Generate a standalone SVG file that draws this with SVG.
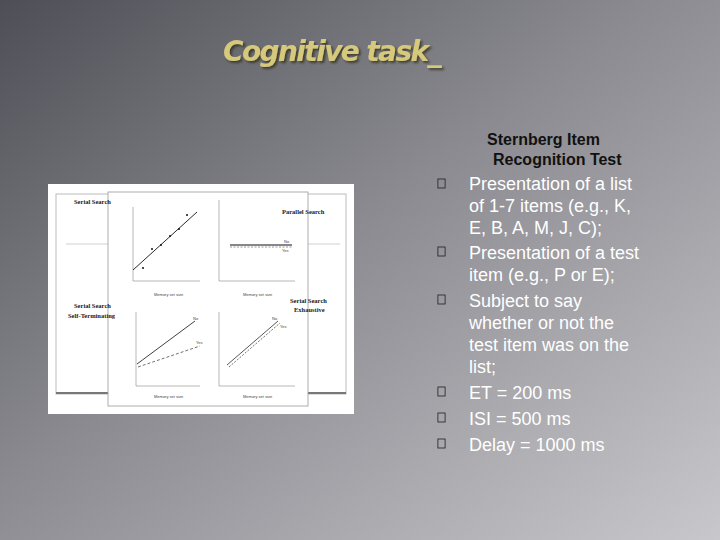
<svg xmlns="http://www.w3.org/2000/svg" width="720" height="540" viewBox="0 0 720 540">
<defs>
<linearGradient id="bg" x1="0" y1="0" x2="1" y2="1">
<stop offset="0" stop-color="#4e4e56"/><stop offset="0.45" stop-color="#8a8a90"/><stop offset="1" stop-color="#c8c8cc"/>
</linearGradient>
<filter id="sh" x="-5%" y="-20%" width="110%" height="150%"><feDropShadow dx="2" dy="2" stdDeviation="0.8" flood-color="#2a2618" flood-opacity="0.7"/></filter>
<symbol id="box" viewBox="0 0 10 12"><rect x="1" y="1" width="8" height="10" fill="none" stroke="#222" stroke-width="0.9"/></symbol>
</defs>
<style>
.b{font-family:"Liberation Sans",Arial,sans-serif;font-size:18px;fill:#ffffff}
.h{font-family:"Liberation Sans",Arial,sans-serif;font-size:16px;font-weight:bold;fill:#111}
.s{font-family:"Liberation Serif",serif;font-size:6.5px;font-weight:bold;fill:#222}
.t{font-family:"Liberation Sans",Arial,sans-serif;font-size:4px;fill:#444}
.ax{fill:none;stroke:#888;stroke-width:0.6}
</style>
<rect width="720" height="540" fill="url(#bg)"/>
<text x="223" y="61" font-family="Verdana,'DejaVu Sans',sans-serif" font-size="28" font-style="italic" font-weight="bold" fill="#d6c97c" letter-spacing="-1.6" filter="url(#sh)">Cognitive task_</text>
<text class="h" x="487" y="145">Sternberg Item</text>
<text class="h" x="493" y="165">Recognition Test</text>
<g id="figure">
<rect x="48" y="184" width="306" height="230" fill="#fff"/>
<rect x="56" y="194" width="290" height="200" fill="none" stroke="#bbb" stroke-width="1"/>
<line x1="56" y1="393" x2="346" y2="393" stroke="#777" stroke-width="2"/>
<line x1="66" y1="244" x2="108" y2="244" stroke="#bbb" stroke-width="0.7"/>
<line x1="308" y1="244" x2="340" y2="244" stroke="#bbb" stroke-width="0.7"/>
<rect x="108" y="192" width="200" height="214" fill="#fff" stroke="#999" stroke-width="0.8"/>
<text class="s" x="74" y="204">Serial Search</text>
<text class="s" x="282" y="214">Parallel Search</text>
<text class="s" x="74" y="308">Serial Search</text>
<text class="s" x="68" y="318">Self-Terminating</text>
<text class="s" x="290" y="303">Serial Search</text>
<text class="s" x="294" y="312">Exhaustive</text>
<path class="ax" d="M133 207V281H200"/>
<path d="M133 270L197 212" stroke="#111" stroke-width="0.9" fill="none"/>
<g fill="#111"><circle cx="143" cy="268" r="1"/><circle cx="152" cy="249" r="1"/><circle cx="161" cy="245" r="1"/><circle cx="170" cy="236" r="1"/><circle cx="179" cy="229" r="1"/><circle cx="187" cy="215" r="1"/></g>
<text class="t" x="154" y="296">Memory set size</text>
<path class="ax" d="M219 200V281H295"/>
<line x1="230" y1="245" x2="292" y2="245" stroke="#111" stroke-width="1"/>
<line x1="230" y1="247" x2="292" y2="247" stroke="#555" stroke-width="0.6" stroke-dasharray="2,1.5"/>
<text class="t" x="284" y="243">No</text><text class="t" x="282" y="252">Yes</text>
<text class="t" x="243" y="296">Memory set size</text>
<path class="ax" d="M136 312V386H200"/>
<path d="M137 364L195 321" stroke="#111" stroke-width="0.8"/>
<path d="M138 367L200 346" stroke="#333" stroke-width="0.7" stroke-dasharray="3,2"/>
<text class="t" x="193" y="320">No</text><text class="t" x="196" y="344">Yes</text>
<text class="t" x="154" y="398">Memory set size</text>
<path class="ax" d="M219 312V386H295"/>
<path d="M227 365L278 321" stroke="#111" stroke-width="0.7"/>
<path d="M229 367L280 323" stroke="#333" stroke-width="0.7" stroke-dasharray="2,1.5"/>
<text class="t" x="272" y="320">No</text><text class="t" x="280" y="328">Yes</text>
<text class="t" x="243" y="398">Memory set size</text>
</g>
<g id="bullets">
<use href="#box" x="437" y="178" width="9" height="11"/>
<use href="#box" x="437" y="246" width="9" height="11"/>
<use href="#box" x="437" y="294" width="9" height="11"/>
<use href="#box" x="437" y="386" width="9" height="11"/>
<use href="#box" x="437" y="412" width="9" height="11"/>
<use href="#box" x="437" y="438" width="9" height="11"/>
</g>
<text class="b" x="469" y="190">Presentation of a list</text>
<text class="b" x="469" y="212">of 1-7 items (e.g., K,</text>
<text class="b" x="469" y="234">E, B, A, M, J, C);</text>
<text class="b" x="469" y="259">Presentation of a test</text>
<text class="b" x="469" y="281">item (e.g., P or E);</text>
<text class="b" x="469" y="307">Subject to say</text>
<text class="b" x="469" y="329">whether or not the</text>
<text class="b" x="469" y="351">test item was on the</text>
<text class="b" x="469" y="373">list;</text>
<text class="b" x="469" y="399">ET = 200 ms</text>
<text class="b" x="469" y="425">ISI = 500 ms</text>
<text class="b" x="469" y="451">Delay = 1000 ms</text>
</svg>
